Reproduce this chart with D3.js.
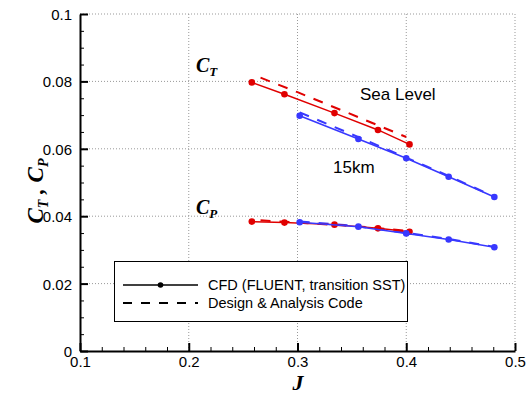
<!DOCTYPE html>
<html><head><meta charset="utf-8">
<script src="https://cdn.jsdelivr.net/npm/d3@7"></script>
<style>body{margin:0;background:#fff}svg{display:block}</style>
</head><body>
<script>
// ---- data ----
const xTicks = [0.1, 0.2, 0.3, 0.4, 0.5];
const yTicks = [0, 0.02, 0.04, 0.06, 0.08, 0.1];
const xTickLabels = ["0.1", "0.2", "0.3", "0.4", "0.5"];
const yTickLabels = ["0", "0.02", "0.04", "0.06", "0.08", "0.1"];

const seaJ = [0.258, 0.288, 0.334, 0.374, 0.403];
const seaCT_cfd = [0.0797, 0.0762, 0.0706, 0.0656, 0.0613];
const seaCP_cfd = [0.0384, 0.0381, 0.0375, 0.0364, 0.0354];
const seaJ_code = [0.266, 0.300, 0.340, 0.370, 0.400];
const seaCT_code = [0.0811, 0.0768, 0.0715, 0.0675, 0.0635];
const seaCP_code = [0.0388, 0.0381, 0.0373, 0.0366, 0.0357];

const kmJ = [0.302, 0.356, 0.400, 0.439, 0.481];
const kmCT_cfd = [0.0698, 0.0629, 0.0572, 0.0517, 0.0457];
const kmCP_cfd = [0.0382, 0.0369, 0.0349, 0.0331, 0.0308];
const kmJ_code = [0.302, 0.350, 0.400, 0.440, 0.481];
const kmCT_code = [0.0708, 0.0643, 0.0574, 0.0518, 0.0458];
const kmCP_code = [0.0384, 0.0372, 0.0351, 0.0332, 0.0309];

const legendLabels = ["CFD (FLUENT, transition SST)", "Design & Analysis Code"];

const RED = "#e00000", BLUE = "#3838ff";

const W = 532, H = 396;
const svg = d3.select("body").append("svg").attr("width", W).attr("height", H);
const x = d3.scaleLinear().domain([0.1, 0.5]).range([80, 515]);
const y = d3.scaleLinear().domain([0, 0.1]).range([351, 14]);
const font = "Arial, 'Liberation Sans', sans-serif";
const serif = "'Times New Roman', 'Liberation Serif', serif";

// grid
const g = svg.append("g");
g.selectAll(".gx").data(xTicks.slice(1)).enter().append("line")
  .attr("x1", d => x(d)).attr("x2", d => x(d)).attr("y1", y(0)).attr("y2", y(0.1))
  .attr("stroke", "#999").attr("stroke-width", 1).attr("stroke-dasharray", "1,2");
g.selectAll(".gy").data(yTicks.slice(1)).enter().append("line")
  .attr("y1", d => y(d)).attr("y2", d => y(d)).attr("x1", x(0.1)).attr("x2", x(0.5))
  .attr("stroke", "#999").attr("stroke-width", 1).attr("stroke-dasharray", "1,2");

// axes
const xAxis = d3.axisBottom(x).tickValues(xTicks).tickFormat((d, i) => xTickLabels[i]).tickSizeInner(-8).tickSizeOuter(0).tickPadding(4);
const ax = svg.append("g").attr("transform", `translate(0,${y(0)})`).call(xAxis);
const xMinor = d3.range(0.12, 0.5, 0.02).filter(v => Math.abs(v * 10 - Math.round(v * 10)) > 0.01);
svg.append("g").attr("transform", `translate(0,${y(0)})`)
  .call(d3.axisBottom(x).tickValues(xMinor).tickSizeInner(-4).tickSizeOuter(0).tickFormat(""))
  .call(s => s.select(".domain").remove());
const yAxis = d3.axisLeft(y).tickValues(yTicks).tickFormat((d, i) => yTickLabels[i]).tickSizeInner(-8).tickSizeOuter(0).tickPadding(8);
const ay = svg.append("g").attr("transform", `translate(${x(0.1)},0)`).call(yAxis);
const yMinor = d3.range(0.005, 0.1, 0.005).filter(v => Math.abs(v * 50 - Math.round(v * 50)) > 0.01);
svg.append("g").attr("transform", `translate(${x(0.1)},0)`)
  .call(d3.axisLeft(y).tickValues(yMinor).tickSizeInner(-4).tickSizeOuter(0).tickFormat(""))
  .call(s => s.select(".domain").remove());
svg.selectAll(".domain").attr("stroke", "#000").attr("stroke-width", 2);
svg.selectAll(".tick line").attr("stroke", "#000");
ax.selectAll(".tick line").attr("stroke-width", 2);
ay.selectAll(".tick line").attr("stroke-width", 2);
svg.selectAll(".tick text").attr("font-family", font).attr("font-size", 15).attr("fill", "#000");
ax.selectAll(".tick text").attr("y", 16).attr("dy", 0);
ay.selectAll(".tick text").attr("dy", "0.36em");

// series
const line = d3.line().x(d => x(d[0])).y(d => y(d[1]));
function series(J, V, color, dashed, markers) {
  const pts = J.map((j, i) => [j, V[i]]);
  svg.append("path").datum(pts).attr("d", line).attr("fill", "none")
    .attr("stroke", color).attr("stroke-width", dashed ? 2 : 1.5)
    .attr("stroke-dasharray", dashed ? "10,9" : null);
  if (markers) {
    svg.append("g").selectAll("circle").data(pts).enter().append("circle")
      .attr("cx", d => x(d[0])).attr("cy", d => y(d[1])).attr("r", 3.3).attr("fill", color);
  }
}
series(seaJ_code, seaCT_code, RED, true, false);
series(kmJ_code, kmCT_code, BLUE, true, false);
series(seaJ_code, seaCP_code, RED, true, false);
series(kmJ_code, kmCP_code, BLUE, true, false);
series(seaJ, seaCT_cfd, RED, false, true);
series(seaJ, seaCP_cfd, RED, false, true);
series(kmJ, kmCT_cfd, BLUE, false, true);
series(kmJ, kmCP_cfd, BLUE, false, true);

// annotations
function coef(xp, yp, sub) {
  const t = svg.append("text").attr("x", xp).attr("y", yp)
    .attr("font-family", serif)
    .attr("font-weight", "bold").attr("font-style", "italic").attr("font-size", 20);
  t.append("tspan").text("C");
  t.append("tspan").attr("font-size", 13).attr("dy", 4).text(sub);
  return t;
}
coef(196, 72, "T");
coef(196, 214, "P");
svg.append("text").attr("x", 360).attr("y", 100).attr("font-family", font).attr("font-size", 17).text("Sea Level");
svg.append("text").attr("x", 333).attr("y", 173).attr("font-family", font).attr("font-size", 17).text("15km");

// axis titles
svg.append("text").attr("x", 298).attr("y", 390).attr("text-anchor", "middle")
  .attr("font-family", serif).attr("font-weight", "bold")
  .attr("font-style", "italic").attr("font-size", 22).text("J");
const yt = svg.append("text").attr("transform", "translate(43,191) rotate(-90)").attr("text-anchor", "middle")
  .attr("font-family", serif).attr("font-weight", "bold")
  .attr("font-style", "italic").attr("font-size", 23);
yt.append("tspan").text("C");
yt.append("tspan").attr("font-size", 14).attr("dy", 5).text("T");
yt.append("tspan").attr("dy", -5).text(" , C");
yt.append("tspan").attr("font-size", 14).attr("dy", 5).text("P");

// legend
const lg = svg.append("g");
lg.append("rect").attr("x", 114.5).attr("y", 261.5).attr("width", 293).attr("height", 60)
  .attr("fill", "#fff").attr("stroke", "#000").attr("stroke-width", 1);
const ly = [285, 303];
lg.append("line").attr("x1", 123).attr("x2", 198).attr("y1", ly[0]).attr("y2", ly[0]).attr("stroke", "#000").attr("stroke-width", 1.5);
lg.append("circle").attr("cx", 160.5).attr("cy", ly[0]).attr("r", 2.8).attr("fill", "#000");
lg.append("line").attr("x1", 123).attr("x2", 198).attr("y1", ly[1]).attr("y2", ly[1]).attr("stroke", "#000").attr("stroke-width", 2).attr("stroke-dasharray", "9,9");
lg.selectAll(".lt").data(legendLabels).enter().append("text")
  .attr("x", 208).attr("y", (d, i) => ly[i] + 5).attr("font-family", font).attr("font-size", 14.5).text(d => d);
</script>
</body></html>
